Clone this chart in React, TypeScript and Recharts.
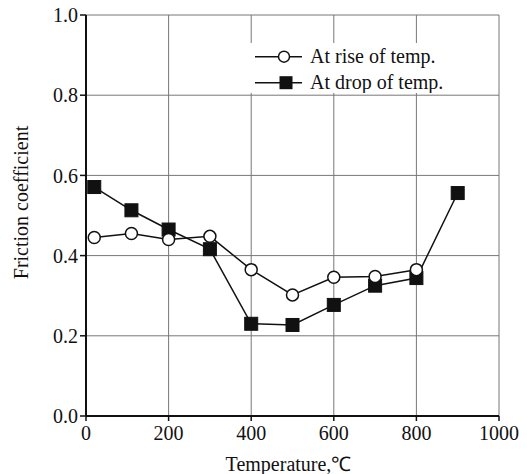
import * as React from "react";
import {
  LineChart,
  Line,
  XAxis,
  YAxis,
  CartesianGrid,
  Legend,
  Label,
} from "recharts";

// temperatures (deg C) where friction was measured
const temps = [20, 110, 200, 300, 400, 500, 600, 700, 800, 900];
// friction coefficient while heating (no reading at 900)
const riseValues = [0.445, 0.455, 0.44, 0.448, 0.365, 0.302, 0.346, 0.348, 0.365, null];
// friction coefficient while cooling
const dropValues = [0.571, 0.513, 0.465, 0.416, 0.23, 0.227, 0.277, 0.325, 0.344, 0.556];

const xTicks = [0, 200, 400, 600, 800, 1000];
const xMinorTicks = [100, 300, 500, 700, 900];
const yTicks = [0, 0.2, 0.4, 0.6, 0.8, 1.0];
const yMinorTicks = [0.1, 0.3, 0.5, 0.7, 0.9];

const seriesNames = ["At rise of temp.", "At drop of temp."];

const data = temps.map((t, i) => ({
  temp: t,
  rise: riseValues[i],
  drop: dropValues[i],
}));

const FONT = "Liberation Serif, Times New Roman, serif";
const tickStyle = { fill: "#111", fontSize: 20, fontFamily: FONT, style: { fontFamily: FONT } };

function SquareDot(props: any) {
  const { cx, cy, index } = props;
  if (cx == null || cy == null) return <g key={"sq" + index} />;
  return (
    <rect
      key={"sq" + index}
      x={cx - 6.5}
      y={cy - 6.5}
      width={13}
      height={13}
      fill="#111"
      stroke="#111"
    />
  );
}

function FrictionLegend() {
  return (
    <div style={{ background: "#fff", width: 200, height: 50 }}>
      <svg width={200} height={50} style={{ display: "block", fontFamily: FONT }}>
        <line x1={5} x2={52} y1={13.7} y2={13.7} stroke="#111" strokeWidth={1.5} />
        <circle cx={34} cy={13.7} r={5.5} fill="#fff" stroke="#111" strokeWidth={1.5} />
        <text x={60} y={20} fontSize={20} fill="#111">
          {seriesNames[0]}
        </text>
        <line x1={5} x2={52} y1={39.7} y2={39.7} stroke="#111" strokeWidth={1.5} />
        <rect x={29.5} y={33.2} width={13} height={13} fill="#111" />
        <text x={60} y={46.3} fontSize={20} fill="#111">
          {seriesNames[1]}
        </text>
      </svg>
    </div>
  );
}

function YTitle(props: any) {
  const vb = props.viewBox;
  const x = vb.x + 28;
  const y = vb.y + vb.height / 2 - 13;
  return (
    <text
      x={x}
      y={y}
      transform={`rotate(-90, ${x}, ${y})`}
      textAnchor="middle"
      fontSize={20}
      fill="#111"
    >
      Friction coefficient
    </text>
  );
}

function XTitle(props: any) {
  const vb = props.viewBox;
  return (
    <text
      x={vb.x + vb.width / 2 - 4}
      y={vb.y + 55}
      textAnchor="middle"
      fontSize={20}
      fill="#111"
    >
      Temperature,℃
    </text>
  );
}

export default function App() {
  return (
    <div
      style={{
        position: "absolute",
        left: 0,
        top: 0,
        background: "#fff",
        fontFamily: FONT,
      }}
    >
      <LineChart
        width={527}
        height={474}
        data={data}
        margin={{ top: 15, right: 28, bottom: 0, left: 0 }}
        style={{ fontFamily: FONT }}
      >
        <CartesianGrid stroke="#777" strokeWidth={1} />
        {/* minor ticks, no labels */}
        <XAxis
          xAxisId="minor"
          dataKey="temp"
          type="number"
          domain={[0, 1000]}
          ticks={xMinorTicks}
          height={0}
          tick={false}
          tickSize={4}
          axisLine={false}
          tickLine={{ stroke: "#111", strokeWidth: 1.5 }}
        />
        <XAxis
          dataKey="temp"
          type="number"
          domain={[0, 1000]}
          ticks={xTicks}
          height={58}
          tick={tickStyle}
          tickSize={5}
          tickMargin={5}
          axisLine={{ stroke: "#111", strokeWidth: 2 }}
          tickLine={{ stroke: "#111", strokeWidth: 1.5 }}
        >
          <Label content={XTitle} />
        </XAxis>
        <XAxis
          xAxisId="top"
          orientation="top"
          dataKey="temp"
          type="number"
          domain={[0, 1000]}
          height={0}
          tick={false}
          tickLine={false}
          axisLine={{ stroke: "#111", strokeWidth: 2 }}
        />
        <YAxis
          type="number"
          domain={[0, 1]}
          ticks={yTicks}
          width={86}
          tick={tickStyle}
          tickSize={6}
          tickMargin={2}
          tickFormatter={(v: number) => v.toFixed(1)}
          axisLine={{ stroke: "#111", strokeWidth: 2 }}
          tickLine={{ stroke: "#111", strokeWidth: 1.5 }}
        >
          <Label content={YTitle} />
        </YAxis>
        <YAxis
          yAxisId="minor"
          type="number"
          domain={[0, 1]}
          ticks={yMinorTicks}
          mirror
          width={0}
          tick={false}
          tickSize={3}
          axisLine={false}
          tickLine={{ stroke: "#111", strokeWidth: 1.5 }}
        />
        <YAxis
          yAxisId="right"
          orientation="right"
          type="number"
          domain={[0, 1]}
          width={0}
          tick={false}
          tickLine={false}
          axisLine={{ stroke: "#111", strokeWidth: 2 }}
        />
        <Line
          dataKey="drop"
          stroke="#111"
          strokeWidth={1.5}
          dot={SquareDot}
          activeDot={false}
          isAnimationActive={false}
        />
        <Line
          dataKey="rise"
          stroke="#111"
          strokeWidth={1.5}
          dot={{ r: 6, fill: "#fff", stroke: "#111", strokeWidth: 1.5 }}
          activeDot={false}
          isAnimationActive={false}
        />
        <Legend
          layout="horizontal"
          verticalAlign="middle"
          align="center"
          content={<FrictionLegend />}
          wrapperStyle={{ position: "absolute", left: 250, top: 43, width: 200, height: 50 }}
        />
      </LineChart>
    </div>
  );
}
